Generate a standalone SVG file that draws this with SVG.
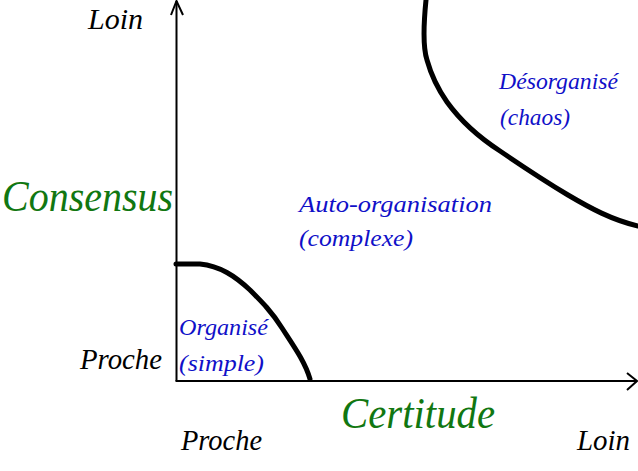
<svg xmlns="http://www.w3.org/2000/svg" width="638" height="471" viewBox="0 0 638 471">
<style>
text{font-family:"Liberation Serif","DejaVu Serif",serif;font-style:italic}
.ax{fill:#000;font-size:29px}
.ti{fill:#117711;font-size:44px}
.rg{fill:#1010c8;font-size:24px}
.axis{stroke:#000;stroke-width:2;fill:none}
.bd{stroke:#000;stroke-width:5;fill:none;stroke-linecap:round;stroke-linejoin:round}
</style>
<rect width="638" height="471" fill="#fff"/>
<g id="connectors">
<path class="axis" d="M176.5 381V1"/>
<path class="axis" d="M171 15L176.5 1L183 15"/>
<path class="axis" d="M175.5 381H637"/>
<path class="axis" d="M627 373L637 381L627 390"/>
</g>
<g id="boundary-simple"><path class="bd" d="M176 264L200 264C220 266 235 276 250 290C262 302 272 312 282 328C295 348 305 362 310 379"/></g>
<g id="boundary-chaos"><path class="bd" d="M426 0C424 20 422 45 427 60C432 78 440 92 447 102C460 120 480 138 500 151C525 168 548 183 568 195C590 208 612 220 638 226"/></g>
<g id="label-y-far"><text class="ax" x="88" y="29" textLength="55" lengthAdjust="spacingAndGlyphs">Loin</text></g>
<g id="label-y-title"><text class="ti" x="2" y="211" textLength="171" lengthAdjust="spacingAndGlyphs">Consensus</text></g>
<g id="label-y-near"><text class="ax" x="80" y="369" textLength="82" lengthAdjust="spacingAndGlyphs">Proche</text></g>
<g id="label-x-near"><text class="ax" x="181" y="450" textLength="81" lengthAdjust="spacingAndGlyphs">Proche</text></g>
<g id="label-x-title"><text class="ti" x="341" y="428" textLength="154" lengthAdjust="spacingAndGlyphs">Certitude</text></g>
<g id="label-x-far"><text class="ax" x="577" y="450" textLength="53" lengthAdjust="spacingAndGlyphs">Loin</text></g>
<g id="region-simple"><text class="rg" x="179" y="335" textLength="89" lengthAdjust="spacingAndGlyphs">Organisé</text><text class="rg" x="179" y="371" textLength="85" lengthAdjust="spacingAndGlyphs">(simple)</text></g>
<g id="region-complex"><text class="rg" x="299" y="212" textLength="193" lengthAdjust="spacingAndGlyphs">Auto-organisation</text><text class="rg" x="299" y="246" textLength="114" lengthAdjust="spacingAndGlyphs">(complexe)</text></g>
<g id="region-chaos"><text class="rg" x="499" y="89" textLength="119" lengthAdjust="spacingAndGlyphs">Désorganisé</text><text class="rg" x="500" y="125" textLength="70" lengthAdjust="spacingAndGlyphs">(chaos)</text></g>
</svg>
